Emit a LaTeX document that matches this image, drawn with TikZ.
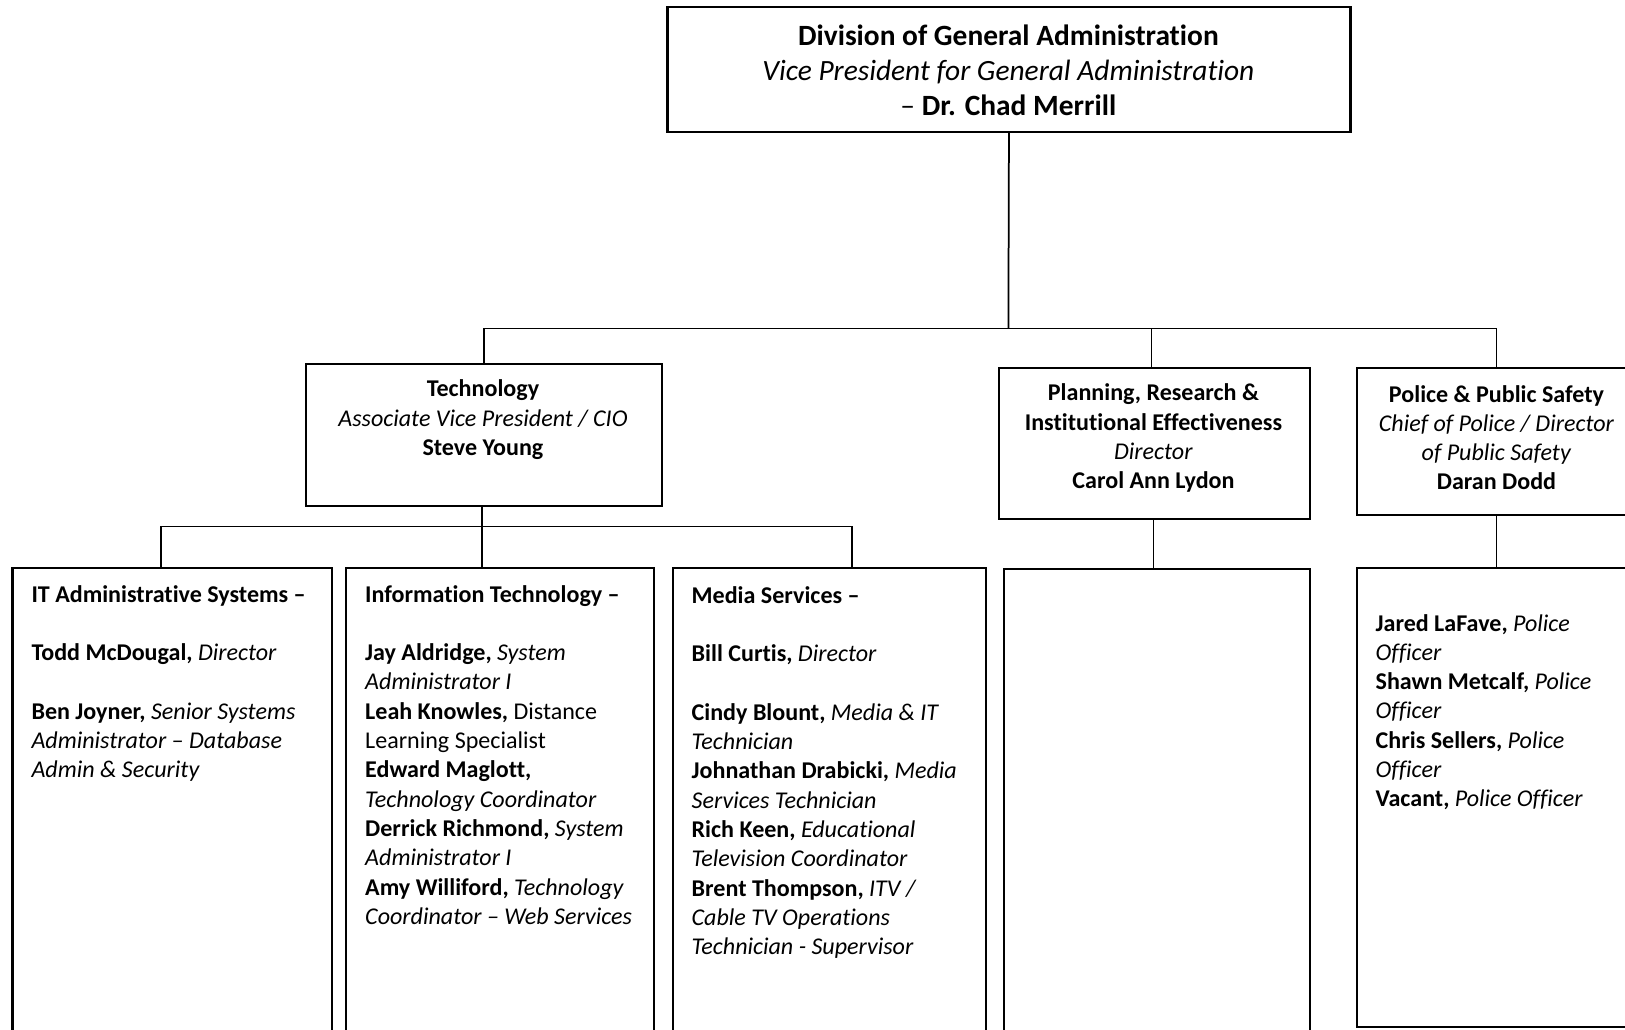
\documentclass[tikz,border=0pt]{standalone}
\usepackage{fontspec}
\setmainfont{Carlito}[Ligatures={NoCommon,NoContextual}]
\usetikzlibrary{calc}
\tikzset{
 x=0.474pt, y=-0.474pt,
 box/.style={draw, line width=1pt, inner sep=0pt, anchor=north west},
 conn/.style={line width=0.8pt},
 ctext/.style={anchor=north, align=center, inner sep=0pt, font=\fontsize{11}{13.4}\selectfont},
 ltext/.style={anchor=north west, align=left, inner sep=0pt, font=\fontsize{11}{13.4}\selectfont},
}
\begin{document}
\begin{tikzpicture}
\useasboundingbox (0,0) rectangle (1568,993);
\clip (0,0) rectangle (1568,993);
% boxes
\node[box, minimum width=659*0.474pt, minimum height=120*0.474pt] (top) at (643,6) {};
\node[box, minimum width=344*0.474pt, minimum height=137*0.474pt] (tech) at (294,350) {};
\node[box, minimum width=300*0.474pt, minimum height=146*0.474pt] (plan) at (963,354) {};
\node[box, minimum width=270*0.474pt, minimum height=142*0.474pt] (police) at (1308,354) {};
\node[box, minimum width=308*0.474pt, minimum height=470*0.474pt] (itadm) at (11,547) {};
\node[box, minimum width=297*0.474pt, minimum height=470*0.474pt] (info) at (333,547) {};
\node[box, minimum width=302*0.474pt, minimum height=470*0.474pt] (media) at (648,547) {};
\node[box, minimum width=295*0.474pt, minimum height=470*0.474pt] (plansub) at (968,548) {};
\node[box, minimum width=270*0.474pt, minimum height=443*0.474pt] (polsub) at (1308,547) {};
% texts
\node[ctext, font=\fontsize{13.45}{16.1}\selectfont] (topt) at (973,19.5) {\strut\textbf{Division of General Administration}\\ \textit{Vice President for General Administration}\\ – \textbf{Dr. Chad Merrill}};
\node[ctext] (techt) at (466,362.7) {\strut\textbf{Technology}\\ \textit{Associate Vice President / CIO}\\ \textbf{Steve Young}};
\node[ctext] (plant) at (1113,366.7) {\strut\textbf{Planning, Research \&}\\ \textbf{Institutional Effectiveness}\\ \textit{Director}\\ \textbf{Carol Ann Lydon}};
\node[ctext] (polt) at (1444,367.7) {\strut\textbf{Police \& Public Safety}\\ \textit{Chief of Police / Director}\\ \textit{of Public Safety}\\ \textbf{Daran Dodd}};
\node[ltext] (itadmt) at (30,560.7) {\strut\textbf{IT Administrative Systems –}\\[13.4pt]
 \textbf{Todd McDougal,} \textit{Director}\\[13.4pt]
 \textbf{Ben Joyner,} \textit{Senior Systems}\\
 \textit{Administrator – Database}\\
 \textit{Admin \& Security}};
\node[ltext] (infot) at (352,560.7) {\strut\textbf{Information Technology –}\\[13.4pt]
 \textbf{Jay Aldridge,} \textit{System}\\
 \textit{Administrator I}\\
 \textbf{Leah Knowles,} Distance\\
 Learning Specialist\\
 \textbf{Edward Maglott,}\\
 \textit{Technology Coordinator}\\
 \textbf{Derrick Richmond,} \textit{System}\\
 \textit{Administrator I}\\
 \textbf{Amy Williford,} \textit{Technology}\\
 \textit{Coordinator – Web Services}};
\node[ltext] (mediat) at (667,561.7) {\strut\textbf{Media Services –}\\[13.4pt]
 \textbf{Bill Curtis,} \textit{Director}\\[13.4pt]
 \textbf{Cindy Blount,} \textit{Media \& IT}\\
 \textit{Technician}\\
 \textbf{Johnathan Drabicki,} \textit{Media}\\
 \textit{Services Technician}\\
 \textbf{Rich Keen,} \textit{Educational}\\
 \textit{Television Coordinator}\\
 \textbf{Brent Thompson,} \textit{ITV /}\\
 \textit{Cable TV Operations}\\
 \textit{Technician - Supervisor}};
\node[ltext] (polsubt) at (1327,588.7) {\strut\textbf{Jared LaFave,} \textit{Police}\\
 \textit{Officer}\\
 \textbf{Shawn Metcalf,} \textit{Police}\\
 \textit{Officer}\\
 \textbf{Chris Sellers,} \textit{Police}\\
 \textit{Officer}\\
 \textbf{Vacant,} \textit{Police Officer}};
% connectors
\coordinate (bus) at (973,317);
\draw[conn] (top.south) -- (bus);
\draw[conn] (tech.north) -- (tech.north |- bus) -- (police.north |- bus) -- (police.north);
\draw[conn] ($(plan.north)+(-3,0)$) -- ($(plan.north |- bus)+(-3,0)$);
\draw[conn] ($(tech.south)+(-2,0)$) -- ($(tech.south |- info.north)+(-2,0)$);
\draw[conn] ($(itadm.north west)+(144,0)$) -- ++(0,-39) -| ($(media.north west)+(174,0)$);
\draw[conn] ($(plan.south)+(-1,0)$) -- ($(plan.south |- plansub.north)+(-1,0)$);
\draw[conn] (police.south) -- (polsub.north);
\end{tikzpicture}
\end{document}
